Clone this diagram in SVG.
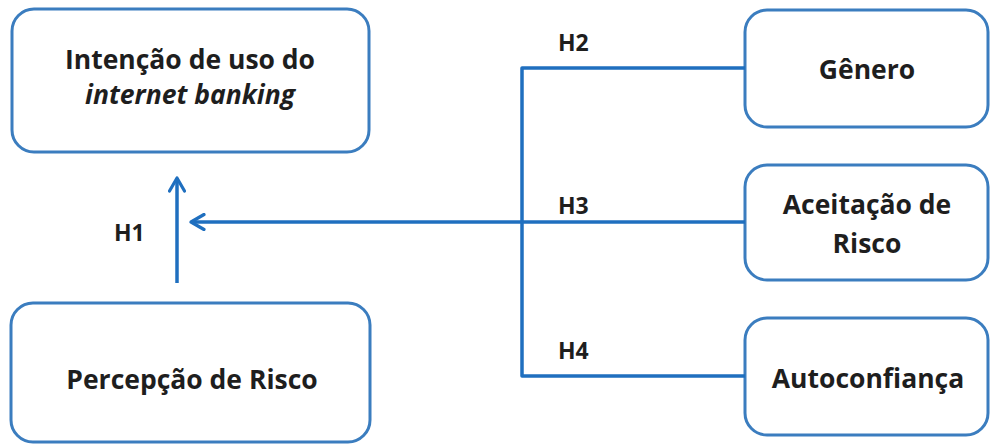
<svg xmlns="http://www.w3.org/2000/svg" width="990" height="446" viewBox="0 0 990 446">
  <style>
    .box { fill: #ffffff; stroke: #3b7dbf; stroke-width: 3; }
    .lbl { font-family: "Open Sans", "Liberation Sans", sans-serif; font-weight: bold; font-size: 26.5px; fill: #1e1e1e; text-anchor: middle; }
    .hyp { font-family: "Open Sans", "Liberation Sans", sans-serif; font-weight: bold; font-size: 23px; fill: #1e1e1e; }
    .wire { fill: none; stroke: #1f6fbf; stroke-width: 3.5; stroke-linecap: butt; stroke-linejoin: round; }
  </style>
  <defs>
    <marker id="chevron" viewBox="0 0 18 18" refX="15" refY="9" markerWidth="18" markerHeight="18" markerUnits="userSpaceOnUse" orient="auto">
      <path d="M2,1.5 L15,9 L2,16.5" fill="none" stroke="#1f6fbf" stroke-width="3.2" stroke-linecap="round" stroke-linejoin="round"/>
    </marker>
  </defs>
  <rect width="990" height="446" fill="#ffffff"/>

  <g id="intencao">
    <rect class="box" x="12" y="9" width="357" height="143" rx="22"/>
    <text class="lbl" x="190" y="69">Intenção de uso do</text>
    <text class="lbl" x="190" y="104"><tspan font-style="italic">internet banking</tspan></text>
  </g>

  <g id="percepcao">
    <rect class="box" x="11" y="303" width="359" height="139" rx="22"/>
    <text class="lbl" x="192" y="389">Percepção de Risco</text>
  </g>

  <g id="genero">
    <rect class="box" x="745" y="10" width="243" height="117" rx="22"/>
    <text class="lbl" x="867" y="79">Gênero</text>
  </g>

  <g id="aceitacao">
    <rect class="box" x="745" y="165" width="243" height="115" rx="22"/>
    <text class="lbl" x="867" y="214">Aceitação de</text>
    <text class="lbl" x="867" y="253">Risco</text>
  </g>

  <g id="autoconfianca">
    <rect class="box" x="745" y="318" width="243" height="117" rx="22"/>
    <text class="lbl" x="868" y="388">Autoconfiança</text>
  </g>

  <g id="connectors">
    <!-- H1: Percepção de Risco to Intenção -->
    <line class="wire" x1="177" y1="283" x2="177" y2="178" marker-end="url(#chevron)"/>
    <!-- H2/H3/H4 bus joining the three factors -->
    <path class="wire" d="M745,68 H522 V376 H745"/>
    <line class="wire" x1="745" y1="222" x2="191" y2="222" marker-end="url(#chevron)"/>
  </g>

  <g id="labels">
    <text class="hyp" x="114" y="241">H1</text>
    <text class="hyp" x="558" y="51">H2</text>
    <text class="hyp" x="558" y="214">H3</text>
    <text class="hyp" x="558" y="359">H4</text>
  </g>
</svg>
